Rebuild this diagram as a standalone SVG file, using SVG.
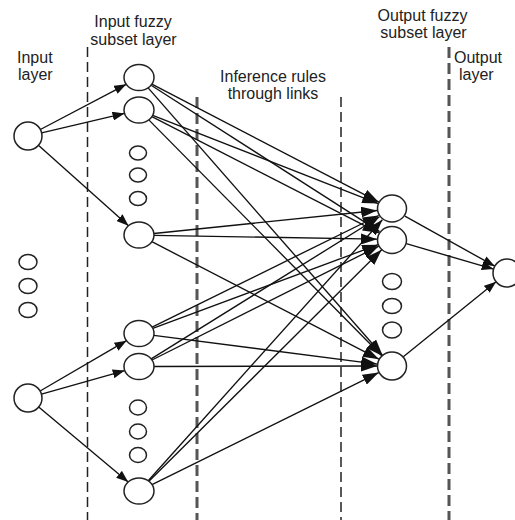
<svg xmlns="http://www.w3.org/2000/svg" width="515" height="520" viewBox="0 0 515 520">
<style>
text{font-family:"Liberation Sans",Arial,sans-serif;font-size:16px;fill:#222}
.n{fill:#fff;stroke:#222;stroke-width:1.5}
.d{fill:#fff;stroke:#222;stroke-width:1.5}
.c line{stroke:#111;stroke-width:1.35}
.a{marker-end:url(#ah)}
.b{marker-end:url(#bh)}
.thin{stroke:#222;stroke-width:1.5;stroke-dasharray:10 5}
.thick{stroke:#555;stroke-width:3;stroke-dasharray:11 5}
</style>
<defs>
<marker id="ah" markerUnits="userSpaceOnUse" markerWidth="13" markerHeight="9" refX="12" refY="4.5" orient="auto"><path d="M0,0 L12,4.5 L0,9 z" fill="#111"/></marker>
<marker id="bh" markerUnits="userSpaceOnUse" markerWidth="17" markerHeight="11" refX="16" refY="5.5" orient="auto"><path d="M0,0 L16,5.5 L0,11 z" fill="#111"/></marker>
</defs>
<rect width="515" height="520" fill="#fff"/>
<g id="labels">
<text x="133" y="27" text-anchor="middle">Input fuzzy</text>
<text x="133.5" y="45" text-anchor="middle">subset layer</text>
<text x="17" y="63">Input</text>
<text x="18" y="80">layer</text>
<text x="273" y="82" text-anchor="middle">Inference rules</text>
<text x="273" y="99" text-anchor="middle">through links</text>
<text x="422.5" y="21" text-anchor="middle">Output fuzzy</text>
<text x="423.5" y="38" text-anchor="middle">subset layer</text>
<text x="454" y="63">Output</text>
<text x="459" y="80">layer</text>
</g>
<g id="separators">
<line class="thin" x1="87.5" y1="47" x2="87.5" y2="520"/>
<line class="thick" x1="197" y1="97" x2="197" y2="520"/>
<line class="thin" x1="341" y1="97" x2="341" y2="520"/>
<line class="thick" x1="449" y1="47" x2="449" y2="520"/>
</g>
<g id="connectors" class="c">
<line class="a" x1="40.4" y1="129.5" x2="126.2" y2="84.3"/>
<line class="a" x1="41.6" y1="132.8" x2="124.5" y2="113.4"/>
<line class="a" x1="38.4" y1="145.3" x2="128.5" y2="225.7"/>
<line class="a" x1="40.1" y1="391" x2="126.5" y2="340.7"/>
<line class="a" x1="41.5" y1="394.2" x2="124.7" y2="370.6"/>
<line class="a" x1="38.7" y1="407" x2="128.2" y2="482"/>
<line class="b" x1="151.9" y1="84.2" x2="378.9" y2="202.2"/>
<line class="b" x1="151.1" y1="85.2" x2="379.6" y2="231.6"/>
<line class="b" x1="148.1" y1="87.9" x2="382.5" y2="355.2"/>
<line class="b" x1="152.7" y1="115.4" x2="378.2" y2="203.6"/>
<line class="b" x1="151.9" y1="116.6" x2="378.8" y2="232.8"/>
<line class="b" x1="148.8" y1="119.9" x2="381.8" y2="355.7"/>
<line class="b" x1="153.9" y1="233.5" x2="377.1" y2="210.5"/>
<line class="b" x1="154" y1="235.3" x2="377" y2="239.2"/>
<line class="b" x1="151.9" y1="241.7" x2="378.9" y2="359.2"/>
<line class="b" x1="152.1" y1="327.1" x2="378.7" y2="215.5"/>
<line class="b" x1="152.8" y1="328.4" x2="378.1" y2="244.7"/>
<line class="b" x1="153.8" y1="335.4" x2="377.1" y2="364.1"/>
<line class="b" x1="151.2" y1="358.9" x2="379.5" y2="216.8"/>
<line class="b" x1="152" y1="360" x2="378.8" y2="246.1"/>
<line class="b" x1="154" y1="366.5" x2="377" y2="366"/>
<line class="b" x1="148.2" y1="480.7" x2="382.4" y2="219.7"/>
<line class="b" x1="148.9" y1="481.2" x2="381.7" y2="249.7"/>
<line class="b" x1="152" y1="484.6" x2="378.7" y2="372.6"/>
<line class="a" x1="404.9" y1="216.2" x2="494.8" y2="266.2"/>
<line class="a" x1="406.3" y1="243.7" x2="493.6" y2="269.1"/>
<line class="a" x1="403.3" y1="356.8" x2="496.1" y2="281.8"/>
</g>
<g id="input-layer">
<circle id="in1" class="n" cx="28" cy="136" r="14"/>
<circle id="in2" class="n" cx="28" cy="398" r="14"/>
<g id="in-dots"><ellipse class="d" cx="28" cy="262" rx="9" ry="7.5"/><ellipse class="d" cx="28" cy="286" rx="9" ry="7.5"/><ellipse class="d" cx="28" cy="310" rx="9" ry="7.5"/></g>
</g>
<g id="input-fuzzy-layer">
<ellipse id="f1" class="n" cx="139" cy="77.5" rx="15" ry="13"/>
<ellipse id="f2" class="n" cx="139" cy="110" rx="15" ry="13"/>
<ellipse id="f3" class="n" cx="139" cy="235" rx="15" ry="13"/>
<ellipse id="f4" class="n" cx="139" cy="333.5" rx="15" ry="13"/>
<ellipse id="f5" class="n" cx="139" cy="366.5" rx="15" ry="13"/>
<ellipse id="f6" class="n" cx="139" cy="491" rx="15" ry="13"/>
<g id="f-dots1"><ellipse class="d" cx="138" cy="153" rx="8.5" ry="7"/><ellipse class="d" cx="138" cy="175" rx="8.5" ry="7"/><ellipse class="d" cx="138" cy="198.5" rx="8.5" ry="7"/></g>
<g id="f-dots2"><ellipse class="d" cx="138" cy="407.5" rx="8.5" ry="7.5"/><ellipse class="d" cx="138" cy="431.5" rx="8.5" ry="7.5"/><ellipse class="d" cx="138" cy="455" rx="8.5" ry="7.5"/></g>
</g>
<g id="output-fuzzy-layer">
<ellipse id="o1" class="n" cx="392" cy="208.5" rx="14.5" ry="13.5"/>
<ellipse id="o2" class="n" cx="392" cy="240" rx="14.5" ry="13.5"/>
<ellipse id="o3" class="n" cx="392" cy="366" rx="14.5" ry="14"/>
<g id="o-dots"><ellipse class="d" cx="392" cy="281.5" rx="9.5" ry="8"/><ellipse class="d" cx="392" cy="306" rx="9.5" ry="7.5"/><ellipse class="d" cx="392" cy="330" rx="9.5" ry="8"/></g>
</g>
<g id="output-layer">
<circle id="y" class="n" cx="507" cy="273" r="14"/>
</g>
</svg>
